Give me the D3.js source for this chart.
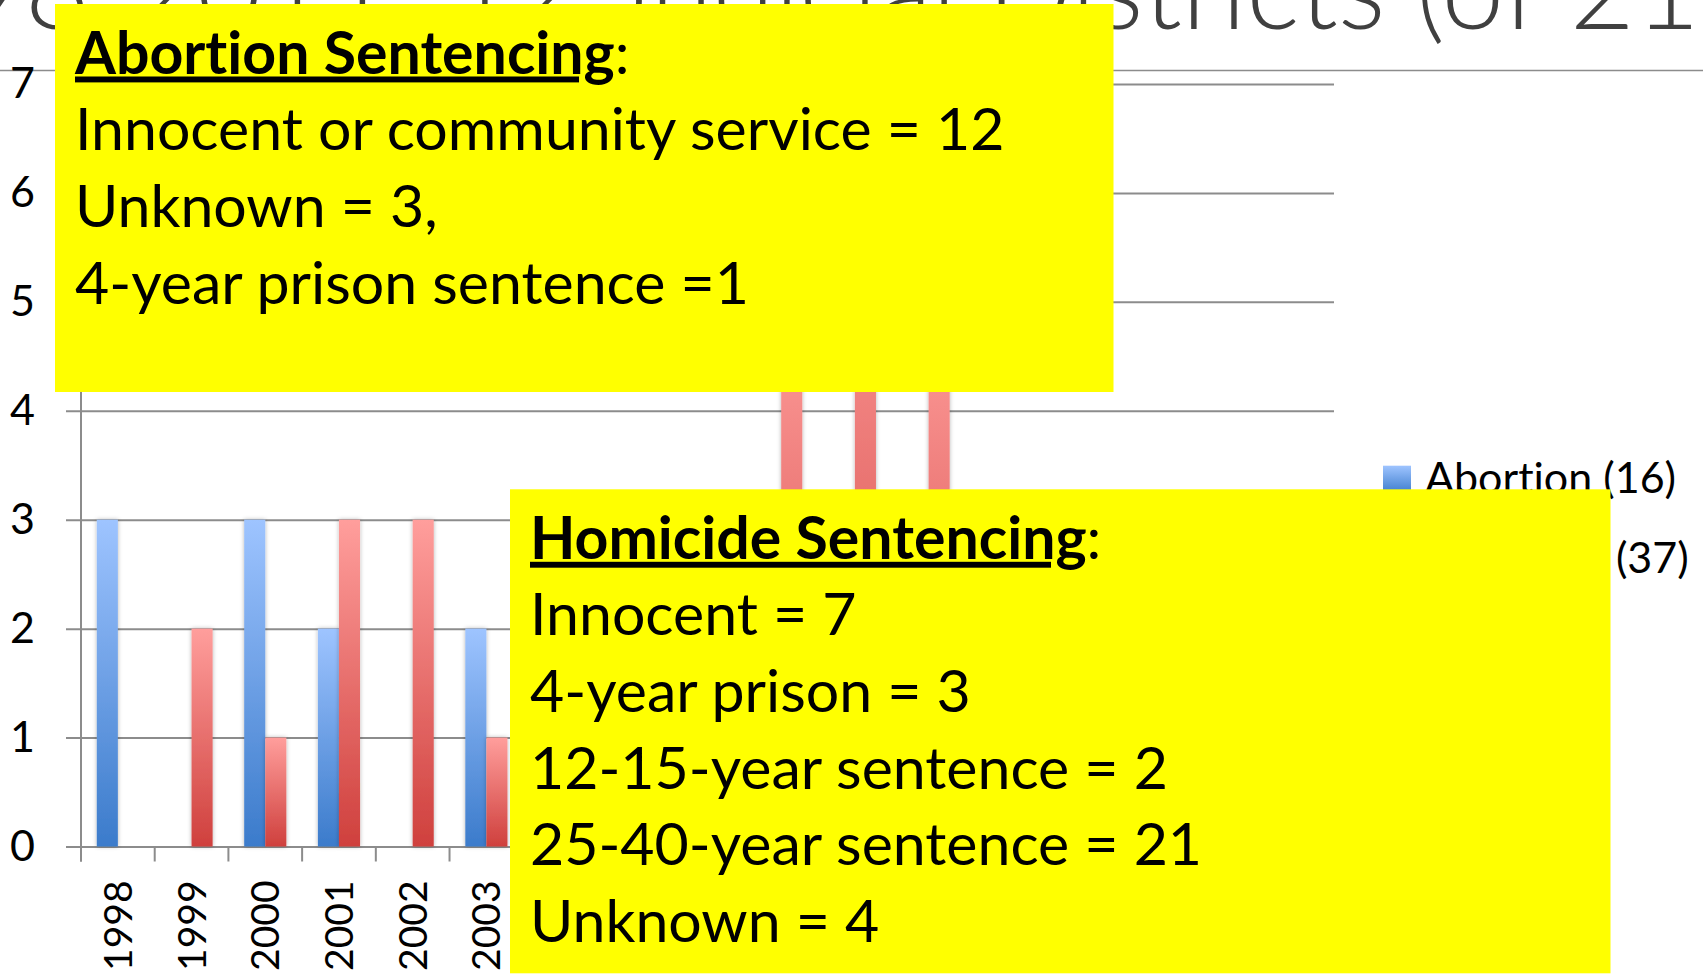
<!DOCTYPE html>
<html>
<head>
<meta charset="utf-8">
<script src="https://cdn.jsdelivr.net/npm/d3@7"></script>
<style>
  html, body { margin: 0; padding: 0; background: #fff; overflow: hidden; }
  text { font-family: Lato, 'Open Sans', sans-serif; font-variant-ligatures: none; }
</style>
</head>
<body>
<script>
var width = 1703
var height = 980

// data (years hidden behind the yellow boxes are estimates)
var years = ['1998', '1999', '2000', '2001', '2002', '2003', '2004', '2005', '2006',
    '2007', '2008', '2009', '2010', '2011', '2012', '2013', '2014']
var abortion = [3, 0, 3, 2, 0, 2, 1, 0, 1, 1, 0, 1, 1, 1, 0, 0, 0]
var homicide = [0, 2, 1, 3, 3, 1, 2, 3, 2, 5, 6, 5, 2, 1, 1, 0, 0]
var seriesNames = ['Abortion', 'Homicide']
var legendLabels = ['Abortion (16)', 'Homicide (37)']
var yTicks = [0, 1, 2, 3, 4, 5, 6, 7]

var titleText = 'Cases 1998-2011: 12 Judicial Districts (of 21)'
var abortionHead = 'Abortion Sentencing'
var abortionNotes = ['Innocent or community service = 12', 'Unknown = 3,', '4-year prison sentence =1']
var homicideHead = 'Homicide Sentencing'
var homicideNotes = ['Innocent = 7', '4-year prison = 3', '12-15-year sentence = 2',
    '25-40-year sentence = 21', 'Unknown = 4']

var colors = {
    Abortion: ['#9ec4ff', '#3b7bcb'],
    Homicide: ['#ff9e9c', '#cf403d']
}

var svg = d3.select('body').append('svg')
    .attr('width', width)
    .attr('height', height)

var defs = svg.append('defs')

seriesNames.forEach(function(s) {
    var g = defs.append('linearGradient')
        .attr('id', 'grad-' + s)
        .attr('x1', 0).attr('y1', 0)
        .attr('x2', 0).attr('y2', 1)
    g.append('stop').attr('offset', '0%').attr('stop-color', colors[s][0])
    g.append('stop').attr('offset', '100%').attr('stop-color', colors[s][1])
})

defs.append('filter')
    .attr('id', 'shadow')
    .attr('x', '-50%').attr('y', '-5%')
    .attr('width', '200%').attr('height', '110%')
    .append('feDropShadow')
    .attr('dx', 0).attr('dy', 0)
    .attr('stdDeviation', 2)
    .attr('flood-color', '#000')
    .attr('flood-opacity', 0.3)

// slide title, mostly hidden behind the first box
var title = svg.append('text')
    .attr('y', 29)
    .attr('fill', '#404040')
    .style('font-weight', 300)
    .style('font-size', '100px')
    .text(titleText)

var tNode = title.node()
var parenAt = titleText.indexOf('(of')
var fs = 100 * 284 / tNode.getSubStringLength(parenAt, 6)
title.style('font-size', fs + 'px')
title.attr('x', 1416 - tNode.getSubStringLength(0, parenAt))

svg.append('line')
    .attr('x1', 0).attr('x2', width)
    .attr('y1', 70.5).attr('y2', 70.5)
    .style('stroke', '#8c8c8c')
    .style('stroke-width', 1.5)

// chart
var x = d3.scaleBand()
    .domain(years)
    .range([81, 1334])

var xs = d3.scaleBand()
    .domain(seriesNames)
    .range([x.bandwidth() * 0.75 / 3.5, x.bandwidth() * 2.75 / 3.5])

var y = d3.scaleLinear()
    .domain([0, 7])
    .range([846.5, 84])

var grid = svg.append('g')
    .attr('class', 'grid')
    .attr('transform', 'translate(66,0)')
    .call(d3.axisLeft(y)
        .tickValues(yTicks)
        .tickFormat(d3.format('d'))
        .tickSize(-(x.range()[1] - 66))
        .tickPadding(31))

grid.select('.domain').remove()
grid.selectAll('line')
    .style('stroke', '#8c8c8c')
    .style('stroke-width', 2)
grid.selectAll('text')
    .style('font-size', '43px')
    .style('font-family', 'Lato, sans-serif')
    .attr('fill', '#000')

svg.append('line')
    .attr('x1', x.range()[0]).attr('x2', x.range()[0])
    .attr('y1', y(7)).attr('y2', y(0) + 15)
    .style('stroke', '#8c8c8c')
    .style('stroke-width', 2)

svg.append('g')
    .attr('class', 'xticks')
    .selectAll('line')
    .data(years.map(function(d) { return x(d) }).concat([x.range()[1]]))
    .enter().append('line')
    .attr('x1', function(d) { return d })
    .attr('x2', function(d) { return d })
    .attr('y1', y(0))
    .attr('y2', y(0) + 15)
    .style('stroke', '#8c8c8c')
    .style('stroke-width', 2)

var table = years.map(function(yr, i) {
    return { year: yr, values: [
        { key: 'Abortion', value: abortion[i] },
        { key: 'Homicide', value: homicide[i] }
    ] }
})

svg.append('g')
    .attr('class', 'bars')
    .selectAll('g')
    .data(table)
    .enter().append('g')
    .attr('transform', function(d) { return 'translate(' + x(d.year) + ',0)' })
    .selectAll('rect')
    .data(function(d) { return d.values.filter(function(v) { return v.value > 0 }) })
    .enter().append('rect')
    .attr('x', function(d) { return xs(d.key) })
    .attr('width', xs.bandwidth())
    .attr('y', function(d) { return y(d.value) })
    .attr('height', function(d) { return y(0) - y(d.value) })
    .attr('fill', function(d) { return 'url(#grad-' + d.key + ')' })
    .attr('filter', 'url(#shadow)')

var xAxis = svg.append('g')
    .attr('class', 'x axis')
    .attr('transform', 'translate(0,' + y(0) + ')')
    .call(d3.axisBottom(x).tickSize(0))

xAxis.select('.domain').remove()
xAxis.selectAll('text')
    .attr('transform', 'rotate(-90)')
    .attr('x', -34)
    .attr('y', 0)
    .attr('dy', '0.36em')
    .style('text-anchor', 'end')
    .style('font-size', '39px')
    .style('font-family', 'Lato, sans-serif')
    .attr('fill', '#000')

// legend
var legend = svg.append('g')
    .attr('class', 'legend')
    .selectAll('g')
    .data(seriesNames)
    .enter().append('g')
    .attr('transform', function(d, i) { return 'translate(1383,' + (492.7 + i * 80.6) + ')' })

legend.append('rect')
    .attr('y', -27)
    .attr('width', 28)
    .attr('height', 28)
    .attr('fill', function(d) { return 'url(#grad-' + d + ')' })

legend.append('text')
    .attr('x', 42)
    .style('font-size', '43px')
    .attr('fill', '#000')
    .text(function(d, i) { return legendLabels[i] })

// yellow note boxes
function noteBox(bx, by, bw, bh, head, lines) {
    var g = svg.append('g').attr('transform', 'translate(' + bx + ',' + by + ')')
    g.append('rect')
        .attr('width', bw)
        .attr('height', bh)
        .attr('fill', '#ffff00')
    var t = g.append('text')
        .attr('x', 20)
        .attr('y', 69.5)
        .style('font-size', '59px')
        .attr('fill', '#000')
    t.append('tspan')
        .style('font-weight', 700)
        .style('text-decoration', 'underline')
        .text(head)
    t.append('tspan').text(':')
    g.selectAll('text.line')
        .data(lines)
        .enter().append('text')
        .attr('class', 'line')
        .attr('x', 20)
        .attr('y', function(d, i) { return 69.5 + (i + 1) * 76.67 })
        .style('font-size', '59px')
        .attr('fill', '#000')
        .text(function(d) { return d })
}

noteBox(55, 4, 1058.5, 388, abortionHead, abortionNotes)
noteBox(510, 489.3, 1100.5, 484, homicideHead, homicideNotes)
</script>
</body>
</html>
